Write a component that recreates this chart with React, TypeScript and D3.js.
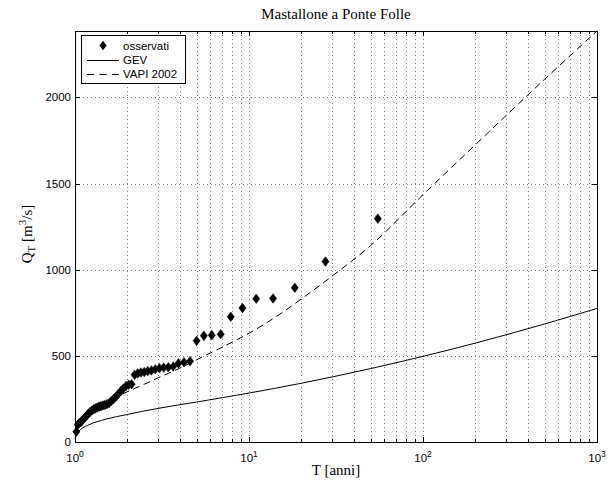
import React from "react";
import * as d3 from "d3";

const T_OBS = [1.019,1.038,1.058,1.078,1.1,1.122,1.146,1.17,1.196,1.222,1.25,1.279,1.31,1.341,1.375,1.41,1.447,1.486,1.528,1.571,1.618,1.667,1.719,1.774,1.833,1.897,1.964,2.037,2.115,2.2,2.292,2.391,2.5,2.619,2.75,2.895,3.056,3.235,3.438,3.667,3.929,4.231,4.583,5,5.5,6.111,6.875,7.857,9.167,11,13.75,18.33,27.5,55];
const Q_OBS = [60,100,110,115,125,135,145,155,165,175,183,190,195,200,205,208,212,215,220,225,238,250,262,280,295,310,325,332,335,390,398,403,406,411,415,422,428,432,434,438,456,463,469,587,616,620,625,727,777,831,833,895,1047,1296];

const GEV_T = [1.003,1.01,1.02,1.05,1.1,1.2,1.5,2,3,5,10,20,50,100,200,500,1000];
const GEV_Q = [15,30,42,62,80,100,132,160,195,232,284,341,426,497,574,685,775];

const VAPI_T = [1.003,1.01,1.05,1.1,1.2,1.5,2,2.5,3,4,5,7,10,15,20,30,50,100,200,500,1000];
const VAPI_Q = [20,50,100,130,170,230,292,335,372,428,477,550,631,741,830,962,1140,1435,1725,2105,2385];

const Y_TICKS = [0,500,1000,1500,2000];
const X_MAJOR = [1,10,100,1000];
const X_EXP = ["0","1","2","3"];
const LEGEND = ["osservati","GEV","VAPI 2002"];
const TITLE = "Mastallone a Ponte Folle";

const W = 615, H = 487;
const L = 75, R = 597, TOP = 31, BOT = 442;

export default function App() {
  const x = d3.scaleLog().domain([1, 1000]).range([L, R]);
  const y = d3.scaleLinear().domain([0, 2385]).range([BOT, TOP]);
  const minors: number[] = [];
  [1, 10, 100].forEach(d => { for (let k = 2; k <= 9; k++) minors.push(d * k); });
  const c = (v: number) => Math.round(v) + 0.5;

  const gevLine = d3.line<number>().x((_, i) => x(GEV_T[i])).y(d => y(d)).curve(d3.curveMonotoneX);
  const vapiLine = d3.line<number>().x((_, i) => x(VAPI_T[i])).y(d => y(d)).curve(d3.curveMonotoneX);
  const diamond = (cx: number, cy: number) => `M${cx},${cy - 4.8}L${cx + 3.6},${cy}L${cx},${cy + 4.8}L${cx - 3.6},${cy}Z`;

  const sans = "'Liberation Sans', Arial, sans-serif";
  const serif = "'Liberation Serif', 'Times New Roman', serif";
  const gridStyle = { stroke: "#444", strokeWidth: 0.7, strokeDasharray: "1,3" };

  return (
    <svg width={W} height={H} style={{ position: "absolute", left: 0, top: 0, background: "#fff" }}>
      <rect x={0} y={0} width={W} height={H} fill="#fff" />
      {minors.concat([10, 100]).map((t, i) => (
        <line key={"gx" + i} x1={c(x(t))} x2={c(x(t))} y1={TOP} y2={BOT} {...gridStyle} />
      ))}
      {Y_TICKS.slice(1).map((v, i) => (
        <line key={"gy" + i} x1={L} x2={R} y1={c(y(v))} y2={c(y(v))} {...gridStyle} />
      ))}
      {minors.map((t, i) => (
        <g key={"mt" + i} stroke="#000" strokeWidth={1}>
          <line x1={c(x(t))} x2={c(x(t))} y1={BOT} y2={BOT - 3} />
          <line x1={c(x(t))} x2={c(x(t))} y1={TOP} y2={TOP + 3} />
        </g>
      ))}
      {X_MAJOR.map((t, i) => (
        <g key={"xt" + i}>
          <line x1={c(x(t))} x2={c(x(t))} y1={BOT} y2={BOT - 5} stroke="#000" />
          <line x1={c(x(t))} x2={c(x(t))} y1={TOP} y2={TOP + 5} stroke="#000" />
          <text x={x(t)} y={462} fontFamily={sans} fontSize={11.5} textAnchor="middle">
            10<tspan dy={-5} fontSize={8.5}>{X_EXP[i]}</tspan>
          </text>
        </g>
      ))}
      {Y_TICKS.map((v, i) => (
        <g key={"yt" + i}>
          <line x1={L} x2={L + 5} y1={c(y(v))} y2={c(y(v))} stroke="#000" />
          <line x1={R} x2={R - 5} y1={c(y(v))} y2={c(y(v))} stroke="#000" />
          <text x={71} y={y(v) + 4} fontFamily={sans} fontSize={11.5} textAnchor="end">{v}</text>
        </g>
      ))}
      <path d={gevLine(GEV_Q) || ""} fill="none" stroke="#000" strokeWidth={1} />
      <path d={vapiLine(VAPI_Q) || ""} fill="none" stroke="#000" strokeWidth={1} strokeDasharray="7,4.5" />
      {Q_OBS.map((q, i) => (
        <path key={"p" + i} d={diamond(x(T_OBS[i]), y(q))} fill="#000" stroke="#000" strokeWidth={0.5} />
      ))}
      <rect x={L + 0.5} y={TOP + 0.5} width={R - L} height={BOT - TOP} fill="none" stroke="#000" strokeWidth={1} />
      <rect x={81.5} y={35.5} width={104} height={48} fill="#fff" stroke="#000" strokeWidth={1} />
      <path d={diamond(103, 45.5)} fill="#000" />
      <line x1={87} x2={119} y1={60.5} y2={60.5} stroke="#000" />
      <line x1={87} x2={119} y1={74.5} y2={74.5} stroke="#000" strokeDasharray="7,5.5" />
      {LEGEND.map((s, i) => (
        <text key={"lg" + i} x={123} y={49.5 + i * 14.3} fontFamily={sans} fontSize={11.5}>{s}</text>
      ))}
      <text x={336} y={19} fontFamily={serif} fontSize={15} textAnchor="middle">{TITLE}</text>
      <text x={336} y={475} fontFamily={serif} fontSize={15} textAnchor="middle">T [anni]</text>
      <text transform="translate(32,234) rotate(-90)" fontFamily={serif} fontSize={15} textAnchor="middle">
        Q<tspan dy={3} fontSize={11}>T</tspan><tspan dy={-3}> [m</tspan><tspan dy={-6} fontSize={11}>3</tspan><tspan dy={6}>/s]</tspan>
      </text>
    </svg>
  );
}
